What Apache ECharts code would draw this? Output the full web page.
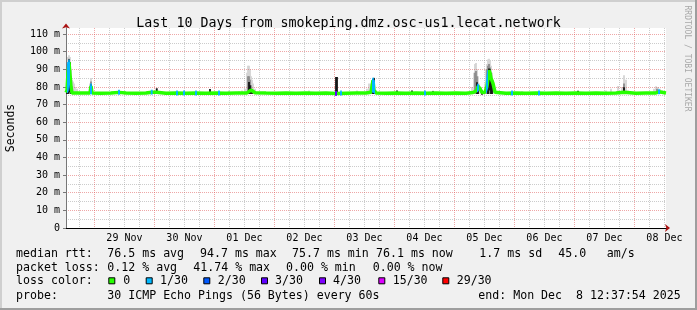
<!DOCTYPE html>
<html><head><meta charset="utf-8">
<script src="https://cdn.jsdelivr.net/npm/echarts@6/dist/echarts.min.js"></script>
<style>html,body{margin:0;padding:0;background:#f0f0f0}#c{width:697px;height:310px}</style>
</head><body><div id="c"></div>
<script>
// ---- data (hours since start: Nov 28 12:37:54) ----
const dayLabels = ['29 Nov','30 Nov','01 Dec','02 Dec','03 Dec','04 Dec','05 Dec','06 Dec','07 Dec','08 Dec'];
const yTicks = [0,10,20,30,40,50,60,70,80,90,100,110];
const yMinorTicks = [5,15,25,35,45,55,65,75,85,95,105];
const firstMidnight = 11.3683; // hours from start to Nov 29 00:00
const spanHours = 240;

const median = [
[0,76.8],[0.4,78],[0.8,88],[1.2,94],[1.6,87],[2.0,80],[2.4,76.6],[3.2,76.4],[6,76.5],[9.6,76.5],[10.0,80.5],[10.4,76.5],
[14,76.4],[18,76.5],[21.2,76.9],[21.6,76.5],[24,76.5],[28,76.4],[32,76.5],[34.3,77.0],[34.7,76.5],[36.3,77],[36.8,76.5],
[40,76.4],[44,76.5],[48,76.4],[52,76.5],[56,76.4],[60,76.5],[64,76.4],[68,76.5],[72.4,76.6],[73.2,77.5],[74.0,78.2],
[74.8,78.6],[75.6,76.7],[80,76.5],[84,76.4],[88,76.5],[92,76.4],[96,76.5],[100,76.4],[104,76.5],[108,76.2],[108.8,76.5],
[112,76.4],[116,76.5],[120,76.6],[122,77],[122.8,83.8],[123.2,78],[124,76.6],[128,76.4],[132,76.5],[136,76.4],[140,76.5],
[144,76.4],[148,76.5],[152,76.4],[156,76.5],[160,76.4],[162.8,76.8],[164.4,78],[164.8,80.4],[165.6,79],[166.4,76.8],
[167.6,77],[168.4,80.4],[169.2,89.4],[169.6,88],[170.0,85],[170.8,82],[171.6,77],[172.4,76.5],[176,76.4],[180,76.5],
[184,76.4],[188,76.5],[192,76.4],[196,76.5],[200,76.4],[204,76.5],[208,76.4],[212,76.5],[216,76.4],[220,76.5],
[223.2,77],[224,76.5],[228,76.4],[232,76.5],[236,76.6],[237.2,77.2],[238,76.6],[240,76.5]
];

// smoke bands: [hour, low, high]
const smokeLight = [
[0.4,76,84],[0.8,76,97],[1.2,76,98],[1.6,76,97],[2.0,76,90],[2.4,76,84],[2.8,76,83],[3.2,76,82],[3.6,76,80],[4.4,76,79],
[9.6,76,82],[10.0,76,85],[10.4,76,80],[36.3,76,79.5],[65.2,76,78],
[69.2,76,77.5],[70.4,76,78],[71.6,76,79],[72.4,76,88],[72.8,76,92],[73.2,76,92],[73.6,76,90],[74.0,76,86],[74.4,76,84],[74.8,76,82],[75.6,76,79],
[97.2,76,78],[116.4,76,78],[120.4,76,79],[121.2,76,82],[122.0,76,82],[122.8,76,85],[123.2,76,85.5],[124,76,78],
[146.8,76,78],[162.4,76,80],[163.2,76,88],[163.6,76,93],[164.0,76,93.5],[164.4,76,90],[164.8,76,86],[165.2,76,82],[166.0,76,80],
[167.6,76,82],[168.0,76,90],[168.4,76,93],[168.8,76,95.6],[169.2,76,96],[169.6,76,95],[170.0,76,92],[170.4,76,88],[170.8,76,84],[171.2,76,80],
[182.4,76,77.5],[216,76,78],[218,76,79],[220.8,76,80.5],[222.4,76,80],[223.2,76,86.6],[224,76,84],[224.8,76,78],
[235.2,76,79],[236,76,80.4],[236.8,76,80],[237.6,76,79],[238.4,76,78]
];
const smokeMid = [
[0.8,76,93],[1.2,76,96],[1.6,76,94],[2.0,76,86],[2.4,76,80],[10.0,76,83],
[72.8,76,86],[73.2,76,86],[73.6,76,84],[74.0,76,81],[122.4,76,80],[122.8,76,84],[123.2,76,84],
[163.6,76,88],[164.0,76,89],[164.4,76,86],[168.4,76,90],[168.8,76,92],[169.2,76,93],[169.6,76,91],[170,76,88],[170.4,76,84],
[223.2,76,82],[236.4,76,79]
];
const smokeDark = [
[0.4,76,79],[0.8,76,92],[1.2,77,95.5],[1.6,77,94],[2.0,76,82],[10.0,76,81.5],[21.2,76,77.8],[36.3,76,79.2],[57.6,76,78.8],
[73.2,76,82.8],[73.6,76,81],[74.4,76,78.5],[108,75.5,85.6],[108.4,75.5,85.6],[122.8,76,84.5],[123.2,76,85],
[132.4,76,78],[138.4,76,78],[146.8,76,77.5],[164.4,76,82.6],[164.8,76,81],[166.4,75.5,78],
[168.8,76,88],[169.2,80,90.5],[169.6,78,90],[170.0,76,86],[170.4,76,82],[204.8,76,77.8],[223.2,76,79.8],[237.2,76,78]
];
// loss points: [hour, median, lossIndex]
const lossPoints = [
[0.8,88,1],[1.2,94,1],[10.0,80.5,1],[21.2,76.9,1],[34.3,77,1],[44.4,76.5,1],[47.2,76.5,1],[52,76.5,1],[61.2,76.5,1],
[108,76.2,3],[110,76.5,1],[122.8,83.8,1],[123.2,78,1],[143.6,76.5,1],[164.8,80.4,1],[168.4,80.4,1],[178.4,76.5,1],
[189.2,76.5,1],[237.2,77.2,1]
];
const lossNames = ['0','1/30','2/30','3/30','4/30','15/30','29/30'];
const lossColors = ['#26ff00','#00b8ff','#0059ff','#5e00ff','#7e00ff','#dd00ff','#ff0000'];

const rttTexts = ['median rtt:','76.5 ms avg','94.7 ms max','75.7 ms min','76.1 ms now','1.7 ms sd','45.0','am/s'];
const lossTexts = ['packet loss:','0.12 % avg','41.74 % max','0.00 % min','0.00 % now'];
const probeTexts = ['probe:','30 ICMP Echo Pings (56 Bytes) every 60s','end: Mon Dec  8 12:37:54 2025'];
const titleText = 'Last 10 Days from smokeping.dmz.osc-us1.lecat.network';

// ---- layout ----
const rttX = [16,107.3,200,292,376,479.3,558.3,606.7];
const lossX = [16,107.3,193.3,286,372.7];
const probeX = [16,107.3,478.3];
const boxX = [108.3,145.7,203.3,261,319,378.3,442.3];
const boxLabelX = [123.3,160,217.7,275,333,392.7,456.7];
const rowY = [253.5,268.3,281.3,296.3];
const MONO = '"DejaVu Sans Mono", monospace';
const legFont = '11.6px ' + MONO;

const midnights = [], noons = [], sixHours = [];
for (let t = firstMidnight; t <= spanHours; t += 24) midnights.push(t);
for (let t = firstMidnight + 12; t <= spanHours; t += 24) noons.push(t);
for (let t = firstMidnight - 6; t <= spanHours; t += 6) {
  if (Math.abs(((t - firstMidnight) % 24 + 24) % 24) > 0.01) sixHours.push(+t.toFixed(4));
}

const graphics = [];
function txt(x, y, s) {
  graphics.push({type:'text', x, y, silent:true, style:{text:s, font:legFont, fill:'#000', verticalAlign:'middle', textVerticalAlign:'middle'}});
}
rttTexts.forEach((s,i)=>txt(rttX[i], rowY[0], s));
lossTexts.forEach((s,i)=>txt(lossX[i], rowY[1], s));
txt(16, rowY[2], 'loss color:');
lossNames.forEach((s,i)=>{
  graphics.push({type:'rect', shape:{x:boxX[i]+0.5, y:rowY[2]-3.5, width:6, height:6}, style:{fill:lossColors[i], stroke:'#000', lineWidth:1}});
  txt(boxLabelX[i], rowY[2], s);
});
probeTexts.forEach((s,i)=>txt(probeX[i], rowY[3], s));
// credit
graphics.push({type:'text', x:687, y:58.5, rotation:-Math.PI/2, silent:true,
  style:{text:'RRDTOOL / TOBI OETIKER', font:'8px ' + MONO, fill:'#a8a8a8', align:'center', textAlign:'center', verticalAlign:'middle', textVerticalAlign:'middle'}});
// frame
graphics.push({type:'rect', shape:{x:0,y:0,width:697,height:2}, style:{fill:'#cfcfcf'}, z:-1});
graphics.push({type:'rect', shape:{x:0,y:0,width:2,height:310}, style:{fill:'#cfcfcf'}, z:-1});
graphics.push({type:'rect', shape:{x:0,y:308,width:697,height:2}, style:{fill:'#9e9e9e'}, z:-1});
graphics.push({type:'rect', shape:{x:695,y:0,width:2,height:310}, style:{fill:'#9e9e9e'}, z:-1});

function smokeSeries(data, color, z) {
  return {
    type:'custom', data, z, silent:true, encode:{x:0, y:[1,2]},
    renderItem:(params, api) => {
      const t = api.value(0), lo = api.value(1), hi = api.value(2);
      const pTop = api.coord([t, hi]), pBot = api.coord([t, lo]);
      const w = api.size([0.4, 0])[0] + 0.8;
      return {type:'rect', shape:{x:pTop[0]-w/2, y:pTop[1], width:w, height:pBot[1]-pTop[1]}, style:{fill:color}};
    }
  };
}

const lossPieces = lossPoints.map(p => ({gte:p[0]-0.25, lt:p[0]+0.25, color:lossColors[p[2]]}));

const chart = echarts.init(document.getElementById('c'), null, {renderer:'canvas'});
const gridRed = {show:true, lineStyle:{color:'rgba(222,80,80,0.5)', width:1, type:[1,1]}};
const gridGrey = {show:true, lineStyle:{color:'rgba(143,143,143,0.45)', width:1, type:[1,1]}};
chart.setOption({
  animation:false,
  backgroundColor:'#f0f0f0',
  title:{text:titleText, left:'center', top:12, textStyle:{fontFamily:MONO, fontSize:13.3, fontWeight:'normal', color:'#000'}},
  grid:{left:66, right:31, top:28, bottom:82, show:true, backgroundColor:'#fff', borderWidth:0,
        containLabel:false, outerBoundsMode:'none'},
  visualMap:{type:'piecewise', show:false, dimension:0, seriesIndex:3, pieces:lossPieces,
             outOfRange:{color:lossColors[0]}},
  xAxis:[
    {type:'value', min:0, max:spanHours, z:3,
     axisLine:{show:true, lineStyle:{color:'#000', width:1}},
     axisTick:{show:false, customValues:midnights},
     axisLabel:{show:true, customValues:noons, margin:5, fontFamily:MONO, fontSize:10, color:'#000',
       formatter:(v)=>dayLabels[Math.round((v - firstMidnight - 12)/24)] || ''},
     splitLine:gridRed},
    {type:'value', min:0, max:spanHours, z:1,
     axisLine:{show:true, symbol:['none','arrow'], symbolSize:[6,5], symbolOffset:[0,4], lineStyle:{color:'#a11', width:1}},
     axisTick:{show:false, customValues:sixHours},
     axisLabel:{show:false},
     splitLine:gridGrey}
  ],
  yAxis:[
    {type:'value', min:0, max:113.4, z:3,
     name:'Seconds', nameLocation:'middle', nameGap:49, nameRotate:90,
     nameTextStyle:{fontFamily:MONO, fontSize:11.5, color:'#000'},
     axisLine:{show:true, lineStyle:{color:'#777', width:1}},
     axisTick:{show:true, length:3, customValues:yTicks, lineStyle:{color:'#777'}},
     axisLabel:{show:true, customValues:yTicks, margin:6, fontFamily:MONO, fontSize:10, color:'#000',
       formatter:(v)=> v === 0 ? '0' : v + ' m'},
     splitLine:gridRed},
    {type:'value', min:0, max:113.4, z:1,
     axisLine:{show:true, symbol:['none','arrow'], symbolSize:[6,5], symbolOffset:[0,4.5], lineStyle:{color:'#a11', width:1}},
     axisTick:{show:false, customValues:yMinorTicks},
     axisLabel:{show:false},
     splitLine:gridGrey}
  ],
  series:[
    smokeSeries(smokeLight, '#d4d4d4', 2),
    smokeSeries(smokeMid, '#8c8c8c', 3),
    smokeSeries(smokeDark, '#141414', 4),
    {type:'line', data:median, showSymbol:false, symbol:'none', z:5, silent:true,
     lineStyle:{width:3.5}},
    {type:'scatter', z:6, silent:true, symbol:'rect', symbolSize:[2,5],
     data:lossPoints.map(p=>({value:[p[0],p[1]], itemStyle:{color:lossColors[p[2]]}}))}
  ],
  graphic:graphics
});
</script></body></html>
